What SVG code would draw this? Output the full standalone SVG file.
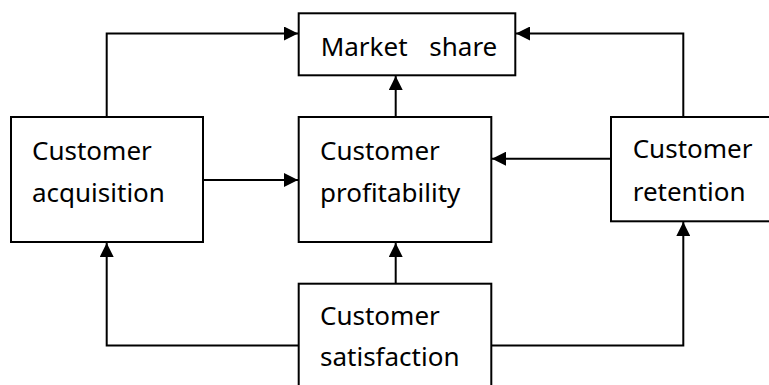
<svg xmlns="http://www.w3.org/2000/svg" width="769" height="385" viewBox="0 0 769 385">
<defs>
<style>
.box{fill:#fff;stroke:#000;stroke-width:2}
.t{font-family:"Noto Sans","Open Sans","DejaVu Sans",sans-serif;font-size:26px;fill:#000}
.c{fill:none;stroke:#000;stroke-width:2}
</style>
<marker id="ah" viewBox="0 0 14 14" refX="14" refY="7" markerWidth="14" markerHeight="14" markerUnits="userSpaceOnUse" orient="auto">
<path d="M0,0 L14,7 L0,14 Z" fill="#000"/>
</marker>
</defs>
<rect width="769" height="385" fill="#fff"/>
<g id="connectors">
<path class="c" d="M106.7,117 V33.5 H298" marker-end="url(#ah)"/>
<path class="c" d="M203,180 H298" marker-end="url(#ah)"/>
<path class="c" d="M395.7,117 V76" marker-end="url(#ah)"/>
<path class="c" d="M683.3,117 V33.5 H516" marker-end="url(#ah)"/>
<path class="c" d="M611,158.7 H492" marker-end="url(#ah)"/>
<path class="c" d="M395.7,283.7 V243" marker-end="url(#ah)"/>
<path class="c" d="M299,345.5 H106.7 V243" marker-end="url(#ah)"/>
<path class="c" d="M491.3,345.5 H683.3 V222" marker-end="url(#ah)"/>
</g>
<g id="market-share">
<rect class="box" x="298.7" y="13.3" width="216.6" height="62"/>
<text class="t" y="55.7"><tspan x="320.7">Market</tspan><tspan x="429.3">share</tspan></text>
</g>
<g id="customer-acquisition">
<rect class="box" x="11" y="117" width="192" height="125"/>
<text class="t" x="32" y="160">Customer</text>
<text class="t" x="32" y="201.5">acquisition</text>
</g>
<g id="customer-profitability">
<rect class="box" x="298.7" y="117" width="192.6" height="125"/>
<text class="t" x="320" y="160">Customer</text>
<text class="t" x="320" y="201.5">profitability</text>
</g>
<g id="customer-retention">
<rect class="box" x="611" y="117" width="170" height="104.3"/>
<text class="t" x="632.7" y="158.3">Customer</text>
<text class="t" x="632.7" y="200.7">retention</text>
</g>
<g id="customer-satisfaction">
<rect class="box" x="298.7" y="283.7" width="192.6" height="120"/>
<text class="t" x="320" y="325">Customer</text>
<text class="t" x="320" y="366">satisfaction</text>
</g>
</svg>
